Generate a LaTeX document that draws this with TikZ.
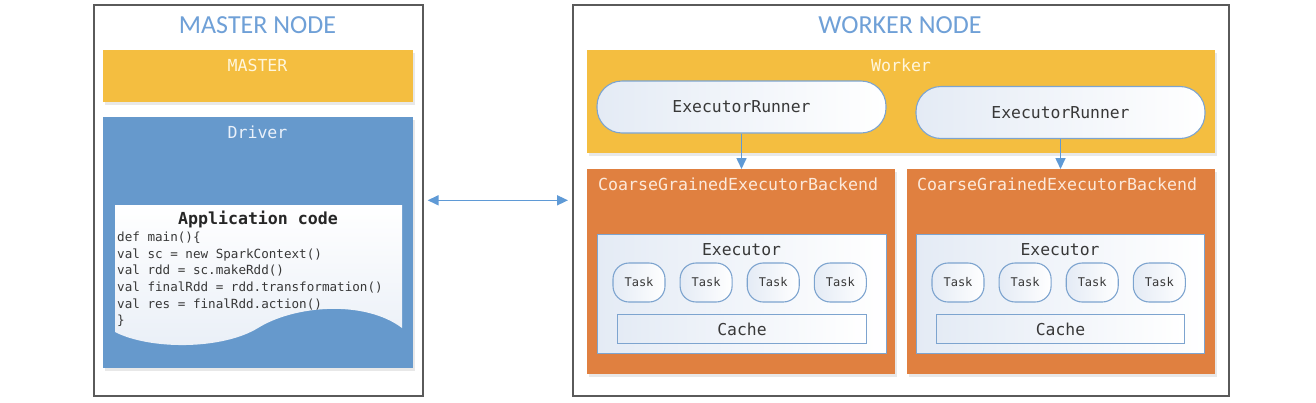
\documentclass[tikz,border=0pt]{standalone}
\usepackage{fontspec}
\setmainfont{Carlito}
\setmonofont{DejaVu Sans Mono}
\usetikzlibrary{arrows.meta,shadows,positioning}

\definecolor{titleblue}{HTML}{6FA0D7}
\definecolor{gold}{HTML}{F4BE40}
\definecolor{goldtext}{HTML}{FFF6DC}
\definecolor{drvblue}{HTML}{6699CC}
\definecolor{drvtext}{HTML}{EAF1FA}
\definecolor{bkorange}{HTML}{E08040}
\definecolor{orgtext}{HTML}{FCE9DA}
\definecolor{edgeblue}{HTML}{7DA4CF}
\definecolor{arrowblue}{HTML}{5F9AD6}
\definecolor{paleblue}{HTML}{E4EBF5}
\definecolor{framegray}{HTML}{5A5A5A}
\definecolor{textgray}{HTML}{383838}

\begin{document}
\begin{tikzpicture}[x=1pt, y=-1pt, >={Triangle[width=10pt,length=11pt]},
  frame/.style={draw=framegray, line width=1.6pt, fill=white, anchor=north west, inner sep=0pt},
  title/.style={text=titleblue, font=\fontsize{26}{30}\selectfont},
  box/.style={fill=#1, anchor=north west, inner sep=0pt,
    drop shadow={opacity=0.18, shadow xshift=1.5pt, shadow yshift=-2.5pt}},
  boxlabel/.style={text=#1, inner sep=0pt, font=\ttfamily\fontsize{16.6}{20}\selectfont},
  runner/.style={draw=edgeblue, line width=1.1pt, rounded corners=25pt, left color=paleblue, right color=white,
    minimum width=289pt, minimum height=52pt, text=textgray, font=\ttfamily\fontsize{16.4}{20}\selectfont},
  inner/.style={draw=edgeblue, line width=1pt, left color=paleblue, right color=white, anchor=north west, inner sep=0pt,
    text=textgray, font=\ttfamily\fontsize{16.4}{20}\selectfont},
  task/.style={draw=edgeblue, line width=1.1pt, rounded corners=16pt, left color=paleblue, right color=white,
    minimum width=52pt, minimum height=39pt, inner sep=0pt, text=textgray, font=\ttfamily\fontsize{12}{14}\selectfont},
  link/.style={->, draw=arrowblue, line width=1.6pt}]

  \useasboundingbox (0,0) rectangle (1316,402);

  % master node
  \node[frame, minimum width=329pt, minimum height=391pt] (masternode) at (93,4) {};
  \node[title] (mastertitle) at (257.5,25) {MASTER NODE};
  \node[box=gold, minimum width=310pt, minimum height=52pt] (master) at (103,50) {};
  \node[boxlabel=goldtext] (masterlbl) at (257.5,65) {MASTER};
  \node[box=drvblue, minimum width=310pt, minimum height=251pt] (driver) at (103,117) {};
  \node[boxlabel=drvtext] (driverlbl) at (257.5,132) {Driver};

  % application code sheet
  \path[top color=white, bottom color=paleblue!80]
    (115,205) -- (402,205) -- (402,328)
    .. controls (365,300) and (295,305) .. (258,328)
    .. controls (222,350) and (150,350) .. (115,332) -- cycle;
  \node[font=\ttfamily\bfseries\fontsize{16.6}{20}\selectfont, text=black!85] (apptitle) at (258,219) {Application code};
  \node[anchor=north west, align=left, inner sep=0pt, text=textgray,
        font=\ttfamily\fontsize{12.6}{16.6}\selectfont] (appcode) at (117,232)
    {def main()\{\\
     val sc = new SparkContext()\\
     val rdd = sc.makeRdd()\\
     val finalRdd = rdd.transformation()\\
     val res = finalRdd.action()\\
     \}};

  % worker node
  \node[frame, minimum width=656pt, minimum height=391pt] (workernode) at (572,4) {};
  \node[title] (workertitle) at (900,25) {WORKER NODE};
  \node[box=gold, minimum width=628pt, minimum height=103pt] (worker) at (587,50) {};
  \node[boxlabel=goldtext] (workerlbl) at (901,65) {Worker};
  \node[runner] (runA) at (741.5,107) {ExecutorRunner};
  \node[runner] (runB) at (1060.5,112.5) {ExecutorRunner};

  \node[box=bkorange, minimum width=308pt, minimum height=205pt] (backA) at (587,169) {};
  \node[box=bkorange, minimum width=308pt, minimum height=205pt] (backB) at (907,169) {};
  \node[boxlabel=orgtext, anchor=west] (backAlbl) at (598,184) {CoarseGrainedExecutorBackend};
  \node[boxlabel=orgtext, anchor=west] (backBlbl) at (917,184) {CoarseGrainedExecutorBackend};

  \node[inner, minimum width=289pt, minimum height=119pt] (execA) at (597,234) {};
  \node[text=textgray, font=\ttfamily\fontsize{16.4}{20}\selectfont] (execAlbl) at (741.5,250) {Executor};
  \node[task] (taskA1) at (639,282.5) {Task};
  \node[task, right=14pt of taskA1] (taskA2) {Task};
  \node[task, right=14pt of taskA2] (taskA3) {Task};
  \node[task, right=14pt of taskA3] (taskA4) {Task};
  \node[inner, minimum width=249pt, minimum height=29pt] (cacheA) at (617,314) {Cache};

  \node[inner, minimum width=288pt, minimum height=119pt] (execB) at (916,234) {};
  \node[text=textgray, font=\ttfamily\fontsize{16.4}{20}\selectfont] (execBlbl) at (1060,250) {Executor};
  \node[task] (taskB1) at (958,282.5) {Task};
  \node[task, right=14pt of taskB1] (taskB2) {Task};
  \node[task, right=14pt of taskB2] (taskB3) {Task};
  \node[task, right=14pt of taskB3] (taskB4) {Task};
  \node[inner, minimum width=248pt, minimum height=29pt] (cacheB) at (936,314) {Cache};

  % links
  \draw[link] (runA.south) -- (runA.south |- backA.north);
  \draw[link] (runB.south) -- (runB.south |- backB.north);
  \draw[link, <->, shorten >=4pt, shorten <=4pt] (masternode.east) -- (workernode.west);
\end{tikzpicture}
\end{document}
